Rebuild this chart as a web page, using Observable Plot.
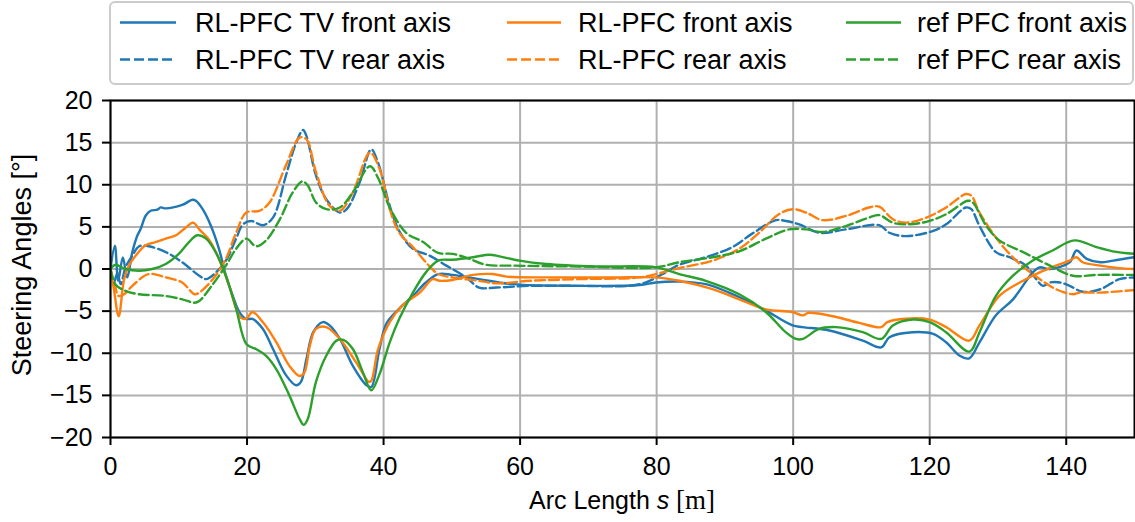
<!DOCTYPE html>
<html>
<head>
<meta charset="utf-8">
<script src="https://cdn.jsdelivr.net/npm/d3@7"></script>
<script src="https://cdn.jsdelivr.net/npm/@observablehq/plot@0.6"></script>
<style>
  html, body { margin: 0; padding: 0; background: #fff; }
  #wrap { position: relative; width: 1135px; height: 522px; font-family: "Liberation Sans", Arial, sans-serif; }
  #wrap > svg { position: absolute; left: 0; top: 0; }
</style>
</head>
<body>
<div id="wrap"></div>
<script>
// ---- data (arc length s [m], steering angle [deg]) ----
const seriesNames = ["RL-PFC TV front axis", "RL-PFC TV rear axis", "RL-PFC front axis", "RL-PFC rear axis", "ref PFC front axis", "ref PFC rear axis"];
const seriesColors = ["#1f77b4", "#1f77b4", "#ff7f0e", "#ff7f0e", "#2ca02c", "#2ca02c"];
const seriesDashed = [false, true, false, true, false, true];
const xTicks = [0, 20, 40, 60, 80, 100, 120, 140];
const yTicks = [-20, -15, -10, -5, 0, 5, 10, 15, 20];

const tvFront = [[0,0],[0.64,2.77],[1.13,-1.38],[1.81,1.38],[2.45,-1.0],[3.19,1.98],[3.92,3.95],[4.41,4.74],[5.15,6.32],[5.88,6.92],[6.86,7.04],[7.35,7.31],[8.09,7.19],[10.5,7.6],[12.0,8.22],[12.5,8.1],[13.5,7.1],[14.7,5.14],[15.9,2.37],[16.9,-0.79],[17.9,-3.16],[18.9,-5.14],[19.85,-5.93],[20.8,-5.93],[22.3,-7.1],[23.8,-9.5],[25.7,-12.6],[27.2,-13.8],[27.9,-13.4],[28.7,-10.7],[29.7,-7.5],[31.1,-6.3],[32.1,-6.7],[33.6,-8.3],[35.5,-11.5],[37.5,-13.8],[38.2,-14.0],[39.4,-9.5],[40.4,-6.5],[42.3,-4.7],[44.3,-3.2],[46.2,-1.6],[48.0,-0.6],[50.1,-0.7],[54.0,-1.2],[58.9,-1.8],[68.7,-2.0],[77.5,-1.9],[79.9,-1.6],[83.3,-1.5],[87.2,-1.8],[90.6,-2.8],[95.5,-4.7],[99.9,-6.7],[101.4,-6.9],[105.3,-7.3],[110.2,-8.5],[112.9,-9.3],[114.1,-8.1],[117.5,-7.5],[120.5,-7.7],[122.4,-8.7],[124.4,-10.3],[125.8,-10.6],[127.3,-8.7],[129.7,-5.5],[132.2,-3.6],[135.1,-0.4],[136.1,0.2],[137.6,0],[140.5,0.8],[141.5,2.2],[143.0,1.2],[145.0,0.8],[146.9,1.0],[150,1.4]];

const tvRear = [[0,0],[0.5,-1.6],[1.0,-0.5],[1.5,-1.8],[2.2,0.2],[3.2,1.6],[4.2,2.7],[5.6,2.7],[8.1,2.0],[10.5,0.8],[13,-0.8],[14,-1.2],[15.2,-0.6],[16.9,1.0],[18.4,3.6],[19.4,5.3],[20.6,5.7],[22.3,5.2],[23.8,6.1],[25.7,11.1],[27.2,15.0],[28.2,16.5],[28.7,15.8],[30.1,11.1],[31.6,8.3],[33.6,6.7],[34.6,7.1],[36.5,10.3],[38.2,14.2],[39.2,12.6],[40.9,7.5],[42.3,4.5],[44.3,2.4],[46.7,1.6],[49.2,0.4],[52.1,-1.0],[54.0,-2.2],[56.5,-2.2],[61.4,-2.0],[68.7,-2.0],[76.0,-2.0],[78.4,-1.6],[80.9,-0.6],[83.3,0.5],[87.2,1.4],[91.1,2.6],[94.0,4.2],[97.5,5.8],[98.9,5.7],[100.9,5.3],[103.8,4.3],[107.7,4.7],[112.6,5.2],[114.1,4.3],[116.5,3.9],[120.4,4.5],[122.4,5.3],[125.3,7.3],[126.1,7.1],[127.3,5.1],[129.7,2.0],[131.7,1.4],[134.1,0.4],[135.6,-1.2],[136.6,-2.0],[137.6,-1.6],[139.1,-1.6],[140.5,-2.0],[142.4,-2.7],[145.0,-2.4],[147.8,-1.2],[150,-1.0]];

const rlFront = [[0,0],[0.5,-2.4],[1.2,-5.6],[2.0,-1.2],[2.7,0.4],[3.7,1.6],[5.1,2.8],[6.6,3.2],[8.1,3.6],[9.6,4.0],[11.0,4.9],[12.1,5.5],[13.0,4.7],[14.5,3.4],[15.9,1.2],[17.4,-2.0],[18.4,-4.7],[19.1,-5.8],[19.9,-5.9],[20.8,-5.1],[22.3,-6.3],[24.3,-8.7],[26.2,-11.5],[27.7,-12.7],[28.4,-12.3],[29.2,-9.1],[30.1,-7.1],[31.6,-6.9],[33.6,-8.3],[36.0,-11.1],[38.0,-13.4],[39.2,-9.5],[40.9,-6.3],[42.8,-4.3],[45.3,-2.8],[47.2,-1.2],[48.2,-1.4],[50.1,-1.3],[53.1,-0.7],[56.0,-0.6],[58.0,-0.9],[63.8,-1.0],[73.6,-1.0],[79.9,-1.0],[83.3,-1.4],[88.2,-2.4],[92.1,-3.6],[96.0,-4.8],[99.9,-5.1],[101.4,-5.5],[102.3,-5.2],[106.3,-5.7],[109.7,-6.4],[112.9,-6.9],[113.8,-6.3],[116.5,-5.9],[120.0,-6.0],[122.4,-6.9],[125.8,-8.5],[127.3,-6.7],[130.2,-3.2],[133.2,-1.6],[136.1,-0.4],[138.5,0.4],[140.5,1.0],[141.5,1.4],[142.4,0.8],[145.0,0.4],[147.8,0.1],[150,0]];

const rlRear = [[0,0],[0.6,-1.8],[1.2,-3.2],[2.0,-3.0],[3.2,-2.0],[5.6,-0.6],[8.1,-1.0],[10.5,-1.6],[12.3,-3.0],[13.0,-2.8],[15.0,-1.2],[16.9,1.2],[18.4,4.3],[19.9,6.7],[21.8,6.9],[23.3,7.9],[25.7,12.3],[27.7,15.6],[28.7,15.4],[30.1,11.5],[32.1,7.5],[33.6,6.9],[35.5,9.1],[38.0,13.8],[39.4,11.9],[40.9,7.1],[42.3,4.3],[44.3,2.6],[46.2,0.8],[48.0,-0.6],[50.1,-1.0],[54.0,-1.4],[56.5,-1.7],[61.4,-1.4],[68.7,-1.2],[77.5,-1.0],[79.9,-0.6],[83.3,0.1],[88.2,1.0],[92.1,2.4],[95.0,4.3],[97.9,6.5],[99.9,7.1],[101.9,6.7],[104.3,5.8],[107.7,6.3],[111.1,7.3],[112.6,7.4],[114.6,5.9],[116.5,5.5],[119.5,6.1],[122.4,7.3],[125.3,8.9],[126.1,8.7],[127.3,6.7],[130.2,3.2],[133.2,0.6],[136.1,-1.2],[138.5,-2.4],[141.0,-3.0],[142.0,-2.8],[145.0,-2.8],[150,-2.5]];

const refFront = [[0,0],[0.7,0.5],[2.2,0],[4.2,-0.2],[6.1,0],[8.1,0.6],[10.0,1.8],[11.5,3.2],[12.7,4.0],[14.0,3.6],[15.4,2.0],[16.9,-0.8],[18.4,-4.7],[19.9,-8.9],[21.3,-9.5],[22.8,-10.3],[24.3,-11.9],[26.2,-15.0],[27.7,-17.8],[28.3,-18.5],[28.9,-17.8],[30.1,-13.4],[31.6,-10.3],[33.1,-8.5],[34.1,-8.4],[35.5,-9.5],[37.0,-12.3],[38.2,-14.4],[39.4,-12.5],[40.9,-8.7],[42.3,-5.9],[44.3,-2.8],[46.2,-0.4],[48.0,1.0],[50.1,1.1],[53.1,1.4],[55.5,1.7],[57.0,1.5],[59.9,1.0],[63.8,0.6],[71.2,0.3],[79.9,0.2],[83.3,-0.6],[87.2,-1.4],[92.1,-3.0],[96.0,-5.1],[98.9,-7.5],[100.4,-8.3],[101.4,-8.3],[103.8,-7.1],[106.3,-6.9],[110.2,-7.5],[112.9,-8.3],[114.6,-6.7],[117.5,-6.0],[120.0,-6.3],[122.4,-7.5],[125.8,-9.8],[127.3,-7.5],[129.7,-3.2],[132.2,-0.8],[135.1,1.0],[138.0,2.2],[141.2,3.4],[144.4,2.6],[146.8,2.1],[150,1.8]];

const refRear = [[0,0],[0.7,-1.8],[2.2,-2.6],[4.2,-3.0],[8.1,-3.2],[10.5,-3.6],[12.3,-4.0],[13.0,-3.8],[15.0,-1.8],[16.9,0.4],[18.4,2.4],[19.9,3.6],[21.3,2.7],[22.8,3.4],[24.8,5.9],[26.7,9.1],[28.1,10.4],[28.9,9.9],[30.1,7.9],[31.6,7.1],[33.6,7.3],[35.5,9.1],[38.0,12.2],[39.2,10.8],[40.9,7.3],[43.3,4.3],[45.8,3.2],[48.0,1.9],[50.1,1.8],[52.6,1.2],[55.0,0.5],[58.9,0.4],[68.7,0.3],[79.9,0.2],[83.3,0.8],[88.2,1.4],[92.1,2.1],[96.0,3.6],[99.4,4.7],[101.9,4.7],[104.3,4.4],[107.7,5.1],[111.1,6.1],[112.6,6.4],[114.6,5.5],[116.5,5.3],[119.5,5.6],[122.4,6.5],[125.6,8.1],[126.3,7.9],[128.3,5.1],[130.2,3.4],[133.7,2.0],[137.1,0.6],[141.0,-0.8],[144.4,-0.7],[150,-0.7]];

const seriesPoints = [tvFront, tvRear, rlFront, rlRear, refFront, refRear];

// ---- layout ----
const W = 1135, H = 522;
const mL = 110, mR = 1, mT = 100, mB = 85;
const FONT = '"Liberation Sans", Arial, sans-serif';
const DASH = "10,4";
const LW = 2.4;

const lineMarks = seriesPoints.map((pts, i) =>
  Plot.line(pts.map(([s, a]) => ({s, a})), {
    x: "s", y: "a",
    stroke: seriesColors[i],
    strokeWidth: LW,
    strokeDasharray: seriesDashed[i] ? DASH : null,
    curve: "catmull-rom",
    clip: true
  })
);

const fmtY = d => d < 0 ? "\u2212" + Math.abs(d) : String(d);

const chart = Plot.plot({
  width: W, height: H,
  marginLeft: mL, marginRight: mR, marginTop: mT, marginBottom: mB,
  style: {fontFamily: FONT, fontSize: "25px", color: "black", background: "white"},
  x: {domain: [0, 150], ticks: xTicks},
  y: {domain: [-20, 20], ticks: yTicks},
  marks: [
    Plot.gridX(xTicks, {stroke: "#b0b0b0", strokeOpacity: 1, strokeWidth: 2}),
    Plot.gridY(yTicks, {stroke: "#b0b0b0", strokeOpacity: 1, strokeWidth: 2}),
    ...lineMarks,
    Plot.frame({stroke: "black", strokeWidth: 2}),
    Plot.axisX(xTicks, {tickSize: 8, tickPadding: 12, strokeWidth: 2, fontSize: 25, label: null, tickFormat: d => String(d)}),
    Plot.axisY(yTicks, {tickSize: 8, tickPadding: 10, strokeWidth: 2, fontSize: 25, label: null, tickFormat: fmtY})
  ]
});

const wrap = document.getElementById("wrap");
wrap.appendChild(chart);

// axis titles (rich text: italic s, serif [m])
const svg = d3.select(chart);
const xl = svg.append("text")
  .attr("x", (mL + W - mR) / 2).attr("y", 509)
  .attr("text-anchor", "middle")
  .style("font-family", FONT).style("font-size", "25px").attr("fill", "black");
xl.append("tspan").text("Arc Length ");
xl.append("tspan").style("font-style", "italic").text("s");
xl.append("tspan").style("font-family", '"Liberation Serif", serif').style("font-size", "27px").text(" [m]");

svg.append("text")
  .attr("transform", `translate(31,265) rotate(-90)`)
  .attr("text-anchor", "middle")
  .style("font-family", FONT).style("font-size", "27px").attr("fill", "black")
  .text("Steering Angles [°]");

// legend (overlay above the axes)
const leg = d3.select(wrap).append("svg")
  .attr("width", W).attr("height", 90)
  .style("position", "absolute").style("left", "0px").style("top", "0px");
leg.append("rect")
  .attr("x", 110).attr("y", 2).attr("width", 1023).attr("height", 82)
  .attr("rx", 5).attr("fill", "white").attr("fill-opacity", 0.8)
  .attr("stroke", "#cccccc").attr("stroke-width", 2);
const colLine = [[120, 176], [507, 561], [846, 901]];
const colText = [195, 578, 917];
const rowBase = [32, 69];
seriesNames.forEach((name, i) => {
  const c = Math.floor(i / 2), r = i % 2;
  const yl = rowBase[r] - 9.5;
  leg.append("line")
    .attr("x1", colLine[c][0]).attr("x2", colLine[c][1])
    .attr("y1", yl).attr("y2", yl)
    .attr("stroke", seriesColors[i]).attr("stroke-width", LW)
    .attr("stroke-dasharray", seriesDashed[i] ? DASH : null);
  leg.append("text")
    .attr("x", colText[c]).attr("y", rowBase[r])
    .style("font-family", FONT).style("font-size", "27px").attr("fill", "black")
    .text(name);
});
</script>
</body>
</html>
